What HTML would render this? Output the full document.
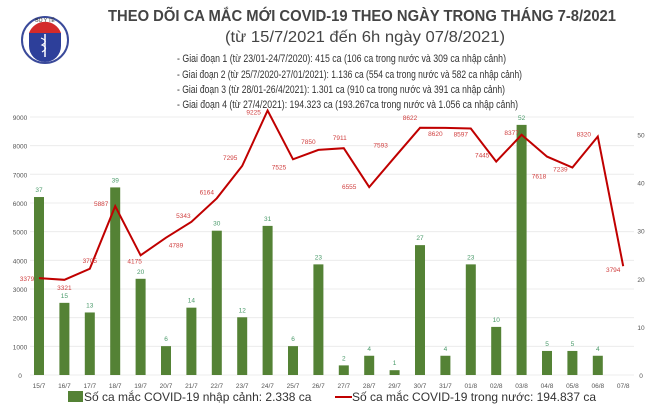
<!DOCTYPE html>
<html><head><meta charset="utf-8"><style>
html,body{margin:0;padding:0;background:#fff}
svg text{font-family:"Liberation Sans",sans-serif}
</style></head><body>
<svg width="660" height="415" viewBox="0 0 660 415" xmlns="http://www.w3.org/2000/svg">
<rect width="660" height="415" fill="#fff"/>
<!-- logo -->
<circle cx="45" cy="40" r="23" fill="#fff" stroke="#3a4a9a" stroke-width="2"/>
<path d="M29 33 A17 17 0 0 1 61 33 Z" fill="#d42a2a"/>
<path d="M29 33 L61 33 L61 46 A16 16 0 0 1 29 46 Z" fill="#2d3f9a"/>
<text x="45" y="22" font-size="5" text-anchor="middle" fill="#333">BỘ Y TẾ</text>
<line x1="45" y1="34" x2="45" y2="57" stroke="#fff" stroke-width="1.5"/>
<path d="M41 38 Q49 41 42 45 Q49 48 42 52" stroke="#fff" stroke-width="1.2" fill="none"/>
<!-- title -->
<text x="108" y="21" font-size="16" font-weight="bold" fill="#444" textLength="508" lengthAdjust="spacingAndGlyphs">THEO DÕI CA MẮC MỚI COVID-19 THEO NGÀY TRONG THÁNG 7-8/2021</text>
<text x="225" y="42" font-size="16" fill="#444" textLength="280" lengthAdjust="spacingAndGlyphs">(từ 15/7/2021 đến 6h ngày 07/8/2021)</text>
<g font-size="11" fill="#333">
<text x="177" y="62" textLength="329" lengthAdjust="spacingAndGlyphs">- Giai đoạn 1 (từ 23/01-24/7/2020): 415 ca (106 ca trong nước và 309 ca nhập cảnh)</text>
<text x="177" y="78" textLength="345" lengthAdjust="spacingAndGlyphs">- Giai đoạn 2 (từ 25/7/2020-27/01/2021): 1.136 ca (554 ca trong nước và 582 ca nhập cảnh)</text>
<text x="177" y="93" textLength="328" lengthAdjust="spacingAndGlyphs">- Giai đoạn 3 (từ 28/01-26/4/2021): 1.301 ca (910 ca trong nước và 391 ca nhập cảnh)</text>
<text x="177" y="108" textLength="341" lengthAdjust="spacingAndGlyphs">- Giai đoạn 4 (từ 27/4/2021): 194.323 ca (193.267ca trong nước và 1.056 ca nhập cảnh)</text>
</g>
<g id="chart"></g>
<!-- legend -->
<rect x="68" y="391" width="15" height="11" fill="#548235"/>
<text x="84" y="401" font-size="12" fill="#333">Số ca mắc COVID-19 nhập cảnh: 2.338 ca</text>
<line x1="335" y1="397" x2="352" y2="397" stroke="#c00000" stroke-width="2"/>
<text x="352" y="401" font-size="12" fill="#333">Số ca mắc COVID-19 trong nước: 194.837 ca</text>
</svg>
<script>
(function(){
var ns="http://www.w3.org/2000/svg",g=document.getElementById("chart");
function el(t,a,txt){var e=document.createElementNS(ns,t);for(var k in a)e.setAttribute(k,a[k]);if(txt!=null)e.textContent=txt;g.appendChild(e);return e;}
var bars=[37,15,13,39,20,6,14,30,12,31,6,23,2,4,1,27,4,23,10,52,5,5,4,0];
var line=[3379,3321,3705,5887,4175,4789,5343,6164,7295,9225,7525,7850,7911,6555,7593,8622,8620,8597,7445,8377,7618,7239,8320,3794];
var lab=["15/7","16/7","17/7","18/7","19/7","20/7","21/7","22/7","23/7","24/7","25/7","26/7","27/7","28/7","29/7","30/7","31/7","01/8","02/8","03/8","04/8","05/8","06/8","07/8"];
var y0=375,kl=0.02867,kr=4.81;
for(var i=0;i<=9;i++){var y=y0-i*1000*kl;el("line",{x1:30,x2:634,y1:y,y2:y,stroke:"#ececec","stroke-width":1});
el("text",{x:20,y:y+3,"font-size":6.5,fill:"#555","text-anchor":"middle"},String(i*1000));}
for(var j=0;j<=5;j++){var y=y0-j*10*kr;el("text",{x:641,y:y+3,"font-size":6.5,fill:"#555","text-anchor":"middle"},String(j*10));}
var pts=[];
for(var i=0;i<24;i++){var x=39+i*25.4;
if(bars[i]>0){var h=bars[i]*kr;el("rect",{x:x-5,y:y0-h,width:10,height:h,fill:"#548235"});
el("text",{x:x,y:y0-h-5,"font-size":6.5,fill:"#4a9a6a","text-anchor":"middle"},String(bars[i]));}
el("text",{x:x,y:388,"font-size":6.5,fill:"#555","text-anchor":"middle"},lab[i]);
pts.push(x+","+(y0-line[i]*kl).toFixed(1));}
el("polyline",{points:pts.join(" "),fill:"none",stroke:"#c00000","stroke-width":2});
var off=[[-12,3],[0,10],[0,-6],[-14,0],[-8,8],[8,10],[0,-8],[0,-8],[-8,-6],[-10,-6],[-12,10],[-4,-8],[0,-8],[-8,10],[0,-8],[0,-8],[-8,10],[0,10],[0,-8],[-8,0],[8,22],[-12,8],[-14,0],[-16,5]];
off[13]=[-20,2];off[14]=[-14,-10];off[15]=[-10,-8];off[16]=[-10,8];off[17]=[-10,8];off[18]=[-14,-4];off[20]=[-8,22];off[21]=[-12,4];off[22]=[-14,0];off[23]=[-10,6];off[8]=[-12,-6];off[9]=[-14,4];off[10]=[-14,10];off[11]=[-10,-6];off[12]=[-4,-8];off[3]=[-14,0];off[4]=[-6,8];off[5]=[10,10];off[6]=[-8,-4];off[7]=[-10,-4];off[19]=[-10,0];
for(var i=0;i<24;i++){var x=39+i*25.4+off[i][0],y=y0-line[i]*kl+off[i][1];
el("text",{x:x,y:y,"font-size":6.5,fill:"#d04040","text-anchor":"middle"},String(line[i]));}
})();
</script>
</body></html>
